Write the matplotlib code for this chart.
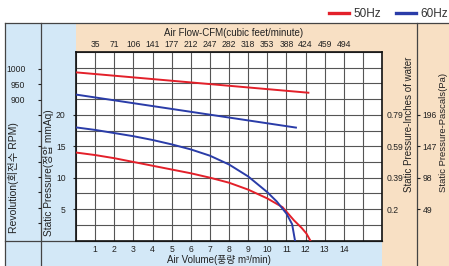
import matplotlib
matplotlib.use("Agg")
import matplotlib.pyplot as plt
from matplotlib.lines import Line2D
from matplotlib.patches import Rectangle
from matplotlib.ticker import FixedLocator

plt.rcParams['font.family'] = ['Liberation Sans', 'Noto Sans CJK KR']
TS = 6.2

# ---------------- data ----------------
airflow_m3 = [1, 2, 3, 4, 5, 6, 7, 8, 9, 10, 11, 12, 13, 14]
cfm_labels = ['35', '71', '106', '141', '177', '212', '247', '282', '318',
              '353', '388', '424', '459', '494']
pressure_ticks = [5, 10, 15, 20]
inch_labels = ['0.2', '0.39', '0.59', '0.79']
pascal_labels = ['49', '98', '147', '196']
rpm_ticks = [500, 550, 600, 650, 700, 750, 800, 850, 900, 950, 1000]
rpm_labeled = [900, 950, 1000]

# static pressure curves (mmAq)
x_50 = [0, 1, 2, 3, 4, 5, 6, 7, 8, 9, 10, 10.8, 11.4, 11.8, 12.05, 12.25]
p_50 = [14.0, 13.6, 13.1, 12.5, 11.9, 11.3, 10.7, 10.0, 9.2, 8.1, 6.7, 5.3, 3.2, 2.0, 1.1, 0]
x_60 = [0, 1, 2, 3, 4, 5, 6, 7, 8, 9, 10, 10.5, 11, 11.3, 11.45]
p_60 = [18.0, 17.6, 17.1, 16.6, 16.0, 15.3, 14.5, 13.5, 12.1, 10.2, 7.7, 6.2, 4.3, 2.6, 0]

# revolution lines (RPM)
rx_50 = [0, 12.15]
rpm_50 = [989, 923]
rx_60 = [0, 11.5]
rpm_60 = [917, 810]

RED = '#e3202a'
BLUE = '#2a3ca8'
LBLUE = '#d3e8f7'
BEIGE = '#f8e0c4'
DARK = '#444444'

W, H = 449, 266
fig = plt.figure(figsize=(W / 100, H / 100), dpi=100)


def fx(x):
    return x / W


def fy(y):
    return 1 - y / H


def rect(x0, y0, x1, y1, c):
    fig.patches.append(Rectangle((fx(x0), fy(y1)), fx(x1) - fx(x0), fy(y0) - fy(y1),
                                 transform=fig.transFigure, facecolor=c,
                                 edgecolor='none', zorder=-5))


def fline(xs, ys, c=DARK, lw=0.9):
    fig.add_artist(Line2D([fx(v) for v in xs], [fy(v) for v in ys],
                          transform=fig.transFigure, color=c, lw=lw, zorder=-4))


# background panels
rect(5, 23, 76, 266, LBLUE)
rect(76, 241, 383, 266, LBLUE)
rect(76, 23, 449, 52, BEIGE)
rect(382, 52, 449, 266, BEIGE)

fline([5, 449], [23, 23])
fline([5, 5], [23, 266])
fline([41, 41], [23, 266])
fline([417, 417], [23, 266])
fline([5, 382], [240.5, 240.5])

# main axes
L, R, T, B = 76, 382, 52, 240.5
ax = fig.add_axes([fx(L), fy(B), fx(R) - fx(L), fy(T) - fy(B)])
ax.set_facecolor('white')
ax.set_xlim(0, 16)
ax.set_ylim(0, 30)
ax.set_xticks(airflow_m3)
ax.set_xticklabels([str(v) for v in airflow_m3])
ax.set_xticks([0, 15, 16], minor=True)
ax.set_yticks(pressure_ticks)
ax.set_yticklabels([str(v) for v in pressure_ticks])
ax.set_yticks([0, 2.5, 7.5, 12.5, 17.5, 22.5, 25, 27.5, 30], minor=True)
ax.grid(which='both', color='#555555', lw=0.8)
ax.set_axisbelow(True)
ax.tick_params(which='minor', length=0)
ax.tick_params(axis='x', which='major', length=0, pad=3, labelsize=TS, colors='#222222')
ax.tick_params(axis='y', which='major', length=2.5, pad=5, labelsize=TS, colors='#222222')
for s in ax.spines.values():
    s.set_color('#111111')
    s.set_linewidth(1.2)

l50, = ax.plot(x_50, p_50, color=RED, lw=1.4, zorder=3)
l60, = ax.plot(x_60, p_60, color=BLUE, lw=1.4, zorder=3)

# top CFM axis
top = ax.secondary_xaxis('top')
top.set_xticks(airflow_m3)
top.set_xticklabels(cfm_labels)
top.tick_params(length=0, pad=2, labelsize=TS, colors='#222222')
top.spines['top'].set_visible(False)

# RPM axis
ax_rpm = ax.twinx()
ax_rpm.set_ylim(444, 1055)
ax_rpm.yaxis.set_ticks_position('left')
ax_rpm.spines['left'].set_position(('axes', (41 - L) / (R - L)))
for s in ax_rpm.spines.values():
    s.set_visible(False)
ax_rpm.yaxis.set_major_locator(FixedLocator(rpm_ticks))
ax_rpm.set_yticklabels([str(v) if v in rpm_labeled else '' for v in rpm_ticks])
ax_rpm.tick_params(axis='y', length=2.2, pad=9, labelsize=TS, colors='#222222')
ax_rpm.plot(rx_50, rpm_50, color=RED, lw=1.4, zorder=3)
ax_rpm.plot(rx_60, rpm_60, color=BLUE, lw=1.4, zorder=3)

# inches of water axis
ax_in = ax.twinx()
ax_in.set_ylim(0, 30)
for s in ax_in.spines.values():
    s.set_visible(False)
ax_in.set_yticks(pressure_ticks)
ax_in.set_yticklabels(inch_labels)
ax_in.tick_params(axis='y', length=0, pad=3, labelsize=TS, colors='#222222')

# pascal axis
ax_pa = ax.twinx()
ax_pa.set_ylim(0, 30)
ax_pa.spines['right'].set_position(('axes', (417 - L) / (R - L)))
for s in ax_pa.spines.values():
    s.set_visible(False)
ax_pa.set_yticks(pressure_ticks)
ax_pa.set_yticklabels(pascal_labels)
ax_pa.tick_params(axis='y', length=2.5, pad=1.5, labelsize=TS, colors='#222222')

# axis titles
fig.text(fx(234), fy(33), 'Air Flow-CFM(cubic feet/minute)', ha='center', va='center',
         fontsize=7, color='#222222')
fig.text(fx(219), fy(260), 'Air Volume(풍량 m³/min)', ha='center', va='center',
         fontsize=7, color='#222222')
fig.text(fx(13.5), fy(178), 'Revolution(회전수 RPM)', rotation=90, ha='center',
         va='center', fontsize=7.5, color='#222222')
fig.text(fx(48.5), fy(173), 'Static Pressure(정압 mmAq)', rotation=90, ha='center',
         va='center', fontsize=7.3, color='#222222')
fig.text(fx(409), fy(192), 'Static Pressure-Inches of water', rotation=90, ha='center',
         va='bottom', fontsize=7, color='#222222')
fig.text(fx(444), fy(192), 'Static Pressure-Pascals(Pa)', rotation=90, ha='center',
         va='bottom', fontsize=6.8, color='#222222')

# legend
h50 = Line2D([], [], color=RED, lw=2.4)
h60 = Line2D([], [], color=BLUE, lw=2.4)
fig.legend([h50, h60], ['50Hz', '60Hz'], loc='center left',
           bbox_to_anchor=(fx(329), fy(14)), ncol=2, frameon=False,
           fontsize=8.5, handlelength=1.7, handletextpad=0.4, columnspacing=1.2,
           borderpad=0, borderaxespad=0, labelcolor='#333333')

fig.savefig('out.png', dpi=100)
